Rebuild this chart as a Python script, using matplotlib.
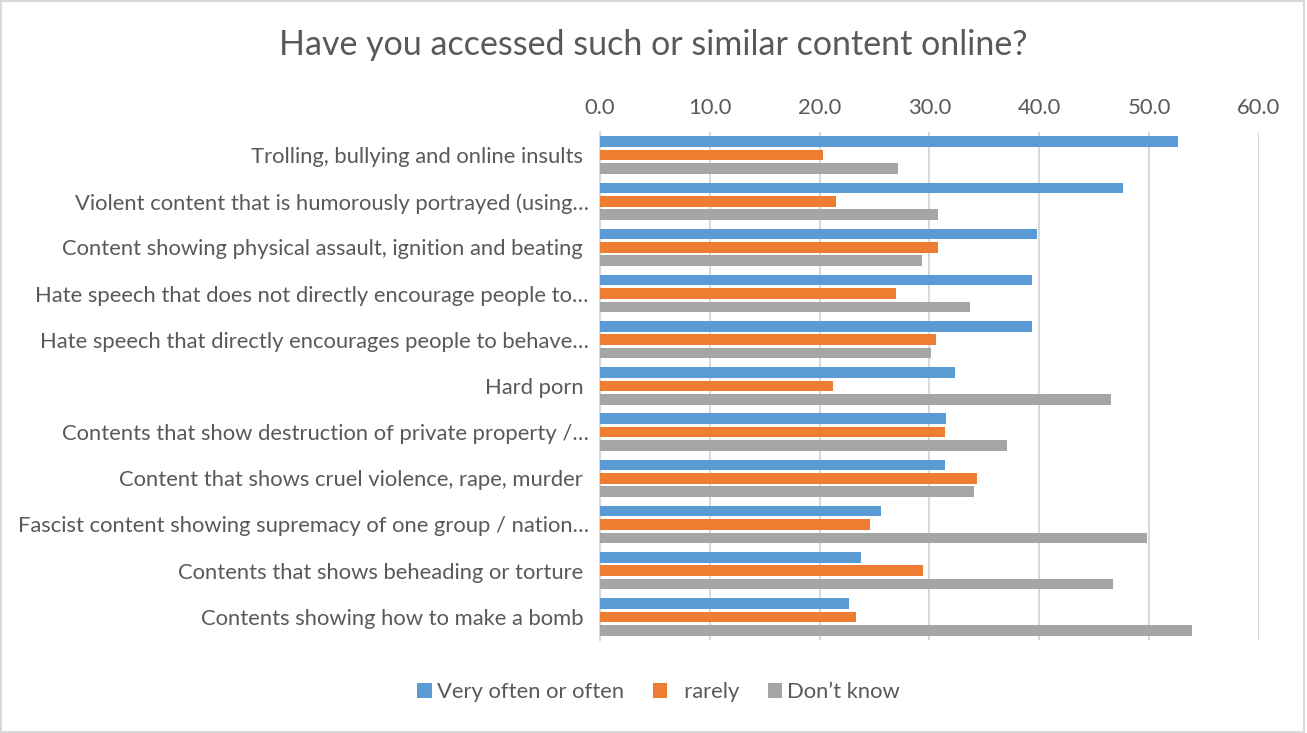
import numpy as np
import matplotlib.pyplot as plt
from matplotlib.patches import Rectangle

plt.rcParams['font.family'] = ['Lato', 'DejaVu Sans']

categories = [
    'Trolling, bullying and online insults ',
    'Violent content that is humorously portrayed (using\u2026',
    'Content showing physical assault, ignition and beating ',
    'Hate speech that does not directly encourage people to\u2026',
    'Hate speech that directly encourages people to behave\u2026',
    'Hard porn ',
    'Contents that show destruction of private property /\u2026',
    'Content that shows cruel violence, rape, murder ',
    'Fascist content showing supremacy of one group / nation\u2026',
    'Contents that shows beheading or torture ',
    'Contents showing how to make a bomb ',
]
often = [52.6, 47.6, 39.8, 39.3, 39.3, 32.3, 31.5, 31.4, 25.6, 23.8, 22.7]
rarely = [20.3, 21.5, 30.8, 27.0, 30.6, 21.2, 31.4, 34.3, 24.6, 29.4, 23.3]
dont_know = [27.1, 30.8, 29.3, 33.7, 30.1, 46.5, 37.1, 34.1, 49.8, 46.7, 53.9]

series = [('Very often or often', often, '#5b9bd5'),
          ('  rarely', rarely, '#ed7d31'),
          ('Don\u2019t know', dont_know, '#a5a5a5')]

text_col = '#595959'
grid_col = '#d9d9d9'
fs = 15.8

fig = plt.figure(figsize=(13.07, 7.33), dpi=100)
ax = fig.add_axes([0.459, 0.127, 0.5042, 0.693])

y = np.arange(len(categories))
step = 0.29
h = 0.23
for i, (name, vals, col) in enumerate(series):
    ax.barh(y + (i - 1) * step, vals, height=h, color=col, label=name, zorder=3)

ax.set_xlim(0, 60)
ax.set_ylim(len(categories) - 0.5, -0.5)
ax.set_xticks(np.arange(0, 61, 10))
ax.set_xticklabels([f'{v:.1f}' for v in np.arange(0, 61, 10)])
ax.xaxis.tick_top()
ax.set_yticks(y)
ax.set_yticklabels(categories)
ax.tick_params(axis='both', length=0, colors=text_col, labelsize=fs)
ax.tick_params(axis='x', pad=10)
ax.tick_params(axis='y', pad=8)
ax.grid(axis='x', color=grid_col, linewidth=1.5, zorder=0)
for s in ['top', 'right', 'bottom']:
    ax.spines[s].set_visible(False)
ax.spines['left'].set_color(grid_col)
ax.spines['left'].set_linewidth(1.5)

fig.text(0.5, 0.938, 'Have you accessed such or similar content online?',
         ha='center', va='center', fontsize=24.5, color=text_col)

fig.legend(loc='center', bbox_to_anchor=(0.504, 0.056), ncol=3, frameon=False,
           fontsize=fs, labelcolor=text_col, handlelength=0.65, handleheight=0.65,
           handletextpad=0.25, columnspacing=1.3)

# light border round the chart
fig.patches.append(Rectangle((0.001, 0.002), 0.997, 0.996, transform=fig.transFigure,
                             fill=False, edgecolor=grid_col, linewidth=1.5))

fig.savefig('out.png', dpi=100)
